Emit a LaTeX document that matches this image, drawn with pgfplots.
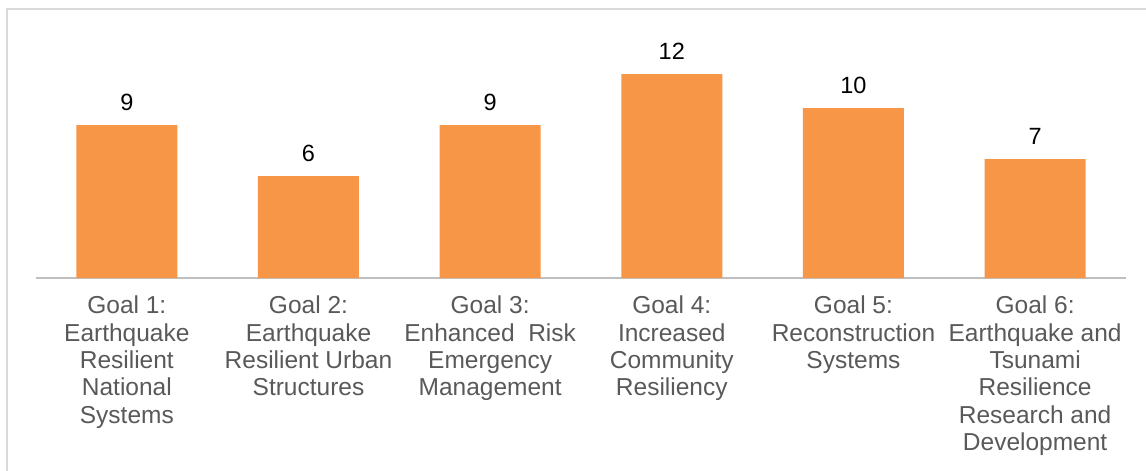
\documentclass[border=0pt]{standalone}
\usepackage{fontspec}
\setmainfont{Liberation Sans}
\usepackage{pgfplots}
\pgfplotsset{compat=1.18}
\definecolor{barorange}{HTML}{F79646}
\definecolor{labgray}{HTML}{595959}
\definecolor{axgray}{HTML}{BFBFBF}
\definecolor{framegray}{HTML}{D9D9D9}
\begin{document}
\begin{tikzpicture}[x=1pt,y=1pt]
\clip (-36,-193) rectangle (1110,278);
\draw[framegray, line width=2pt] (-29,-250) -- (-29,269) -- (1200,269);
\begin{axis}[
  at={(0,0)}, anchor=south west,
  scale only axis, width=1090pt, height=255pt,
  xmin=-0.5, xmax=5.5, ymin=0, ymax=15,
  axis x line*=bottom, axis y line=none,
  x axis line style={axgray, line width=2.5pt, -},
  xtick={0,1,2,3,4,5},
  xticklabels={
    {Goal 1:\\Earthquake\\Resilient\\National\\Systems},
    {Goal 2:\\Earthquake\\Resilient Urban\\Structures},
    {Goal 3:\\Enhanced\ \ Risk\\Emergency\\Management},
    {Goal 4:\\Increased\\Community\\Resiliency},
    {Goal 5:\\Reconstruction\\Systems},
    {Goal 6:\\Earthquake and\\Tsunami\\Resilience\\Research and\\Development}},
  major tick length=0pt,
  x tick label style={font=\fontsize{24.5}{27.3}\selectfont, text=labgray, align=center, anchor=north, inner sep=0pt, yshift=-18pt},
  ybar, bar width=101pt,
  nodes near coords,
  nodes near coords style={font=\fontsize{23.5}{26}\selectfont, text=black, inner sep=0pt, yshift=14pt},
  /pgf/number format/assume math mode=true,
  clip=false,
]
\addplot[fill=barorange, draw=none] coordinates {(0,9) (1,6) (2,9) (3,12) (4,10) (5,7)};
\end{axis}
\end{tikzpicture}
\end{document}
